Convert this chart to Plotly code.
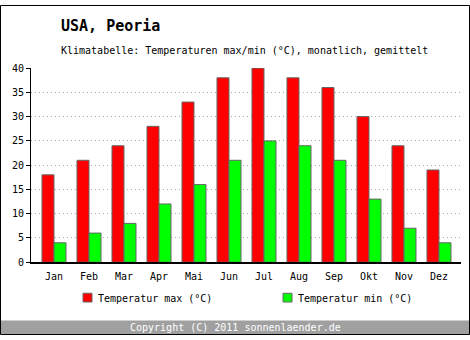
import plotly.graph_objects as go

months = ["Jan", "Feb", "Mar", "Apr", "Mai", "Jun", "Jul", "Aug", "Sep", "Okt", "Nov", "Dez"]
t_max = [18, 21, 24, 28, 33, 38, 40, 38, 36, 30, 24, 19]
t_min = [4, 6, 8, 12, 16, 21, 25, 24, 21, 13, 7, 4]
y_ticks = [0, 5, 10, 15, 20, 25, 30, 35, 40]

W, H = 470, 340
FONT = "DejaVu Sans Mono"

def px(x):
    return x / W

def py(y):
    return 1 - y / H

fig = go.Figure()
fig.add_trace(go.Bar(x=months, y=t_max, name="Temperatur max (°C)",
                     marker=dict(color="#ff0000", line=dict(color="#666666", width=1))))
fig.add_trace(go.Bar(x=months, y=t_min, name="Temperatur min (°C)",
                     marker=dict(color="#00ff00", line=dict(color="#666666", width=1))))

fig.update_layout(
    width=W, height=H,
    margin=dict(l=0, r=0, t=0, b=0),
    paper_bgcolor="#ffffff", plot_bgcolor="#ffffff",
    showlegend=False,
    barmode="group", bargap=0.314, bargroupgap=0,
    font=dict(family=FONT, size=10, color="#000000"),
    xaxis=dict(domain=[px(31), px(461)], range=[-0.657, 11.629],
               showline=True, linecolor="#000000", linewidth=1.5,
               ticks="", showgrid=False, tickfont=dict(size=10), ticklabelstandoff=4),
    yaxis=dict(domain=[py(265), py(65)], range=[0, 40], tickvals=y_ticks,
               showline=True, linecolor="#000000", linewidth=1,
               ticks="outside", ticklen=4, tickcolor="#000000",
               showgrid=True, gridcolor="#aaaaaa", griddash="1px,3px", gridwidth=1,
               zeroline=False, tickfont=dict(size=10)),
)

annotations = [
    dict(text="<b>USA, Peoria</b>", x=px(59), y=py(22), xanchor="left", yanchor="middle",
         font=dict(size=15, family=FONT)),
    dict(text="Klimatabelle: Temperaturen max/min (°C), monatlich, gemittelt",
         x=px(59), y=py(47), xanchor="left", yanchor="middle", font=dict(size=10, family=FONT)),
    dict(text="Temperatur max (°C)", x=px(96), y=py(302), xanchor="left", yanchor="middle",
         font=dict(size=10, family=FONT)),
    dict(text="Temperatur min (°C)", x=px(296), y=py(302), xanchor="left", yanchor="middle",
         font=dict(size=10, family=FONT)),
    dict(text="Copyright (C) 2011 sonnenlaender.de", x=0.5, y=py(332), xanchor="center",
         yanchor="middle", font=dict(size=10, family=FONT, color="#ffffff")),
]
for a in annotations:
    a.update(xref="paper", yref="paper", showarrow=False)
fig.update_layout(annotations=annotations)

shapes = [
    dict(type="rect", x0=px(83), x1=px(92), y0=py(306), y1=py(297),
         fillcolor="#ff0000", line=dict(color="#666666", width=1)),
    dict(type="rect", x0=px(283), x1=px(292), y0=py(306), y1=py(297),
         fillcolor="#00ff00", line=dict(color="#666666", width=1)),
    dict(type="rect", x0=px(1), x1=px(469), y0=py(339), y1=py(325),
         fillcolor="#a0a0a0", line=dict(width=0), layer="below"),
    dict(type="rect", x0=px(0.5), x1=px(469.5), y0=py(339.5), y1=py(0.5),
         fillcolor="rgba(0,0,0,0)", line=dict(color="#000000", width=1)),
]
for s in shapes:
    s.update(xref="paper", yref="paper")
fig.update_layout(shapes=shapes)

fig.write_html("out.html")
